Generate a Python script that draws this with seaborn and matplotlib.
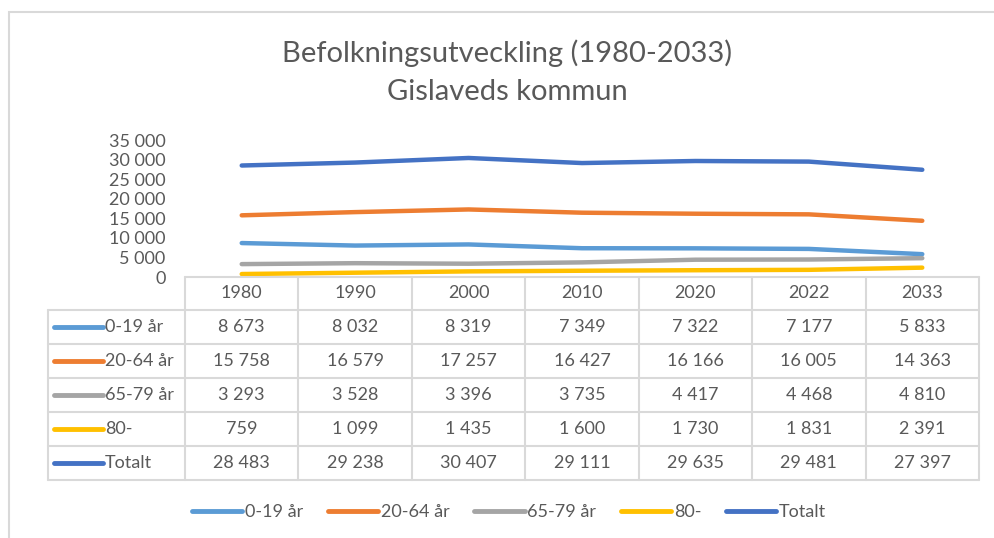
import pandas as pd
import matplotlib.pyplot as plt
import matplotlib.ticker as mticker
from matplotlib.patches import Rectangle
from matplotlib.lines import Line2D
import seaborn as sns

# data
years = ['1980', '1990', '2000', '2010', '2020', '2022', '2033']
groups = ['0-19 år', '20-64 år', '65-79 år', '80-', 'Totalt']
age_0_19 = [8673, 8032, 8319, 7349, 7322, 7177, 5833]
age_20_64 = [15758, 16579, 17257, 16427, 16166, 16005, 14363]
age_65_79 = [3293, 3528, 3396, 3735, 4417, 4468, 4810]
age_80 = [759, 1099, 1435, 1600, 1730, 1831, 2391]
total = [28483, 29238, 30407, 29111, 29635, 29481, 27397]
colors = ['#5B9BD5', '#ED7D31', '#A5A5A5', '#FFC000', '#4472C4']

series = [age_0_19, age_20_64, age_65_79, age_80, total]
rows = []
for g, vals in zip(groups, series):
    for i, v in enumerate(vals):
        rows.append({'pos': i, 'year': years[i], 'group': g, 'value': v})
df = pd.DataFrame(rows)

sns.set_style('white')
plt.rcParams['font.family'] = ['Lato', 'DejaVu Sans']

W, H = 994, 538
fig = plt.figure(figsize=(W / 100, H / 100), dpi=100)
txt = '#595959'
grid = '#D9D9D9'

def fx(x):
    return x / W

def fy(y):
    return 1 - y / H

# plot area in pixels
left, right, top, bottom = 185, 979, 140, 277
ax = fig.add_axes([fx(left), fy(bottom), (right - left) / W, (bottom - top) / H])
sns.lineplot(data=df, x='pos', y='value', hue='group', palette=colors,
             hue_order=groups, linewidth=3.2, sort=False, legend=False, ax=ax,
             solid_capstyle='round')
ax.set_xlim(-0.5, len(years) - 0.5)
ax.set_ylim(0, 35000)
ax.set_yticks(range(0, 35001, 5000))
ax.yaxis.set_major_formatter(mticker.FuncFormatter(lambda v, p: f'{int(v):,}'.replace(',', ' ')))
ax.tick_params(axis='y', labelsize=13, labelcolor=txt, length=0, pad=14)
ax.set_xticks([])
ax.set_xlabel('')
ax.set_ylabel('')
for s in ax.spines.values():
    s.set_visible(False)

# title
fig.text(fx(507), fy(53), 'Befolkningsutveckling (1980-2033)', ha='center', va='center',
         fontsize=21, color=txt)
fig.text(fx(507), fy(92), 'Gislaveds kommun', ha='center', va='center',
         fontsize=21, color=txt)

# chart frame
fig.patches.append(Rectangle((fx(9), fy(560)), (1010 - 9) / W, (560 - 12) / H,
                             transform=fig.transFigure, fill=False,
                             edgecolor=grid, linewidth=1.5))

# data table
col_w = (right - left) / len(years)
row_y = [310, 344, 378, 412, 446, 480]
lk = dict(color=grid, linewidth=1.5, transform=fig.transFigure)
fig.add_artist(Line2D([fx(left), fx(right)], [fy(bottom), fy(bottom)], **lk))
for y in row_y:
    fig.add_artist(Line2D([fx(48), fx(right)], [fy(y), fy(y)], **lk))
fig.add_artist(Line2D([fx(48), fx(48)], [fy(row_y[0]), fy(row_y[-1])], **lk))
for i in range(len(years) + 1):
    x = left + i * col_w
    fig.add_artist(Line2D([fx(x), fx(x)], [fy(bottom), fy(row_y[-1])], **lk))

for i, yr in enumerate(years):
    fig.text(fx(left + (i + 0.5) * col_w), fy((bottom + row_y[0]) / 2), yr,
             ha='center', va='center', fontsize=13, color=txt)

for r, (g, vals, c) in enumerate(zip(groups, series, colors)):
    yc = (row_y[r] + row_y[r + 1]) / 2
    fig.add_artist(Line2D([fx(54), fx(103)], [fy(yc), fy(yc)], color=c, linewidth=3.5,
                          solid_capstyle='round', transform=fig.transFigure))
    fig.text(fx(105), fy(yc), g, ha='left', va='center', fontsize=13, color=txt)
    for i, v in enumerate(vals):
        fig.text(fx(left + (i + 0.5) * col_w), fy(yc), f'{v:,}'.replace(',', ' '),
                 ha='center', va='center', fontsize=13, color=txt)

# legend
handles = [Line2D([0], [0], color=c, linewidth=3.5, solid_capstyle='round', label=g)
           for g, c in zip(groups, colors)]
fig.legend(handles=handles, loc='center', bbox_to_anchor=(fx(509), fy(512)), ncol=5,
           frameon=False, fontsize=13, labelcolor=txt, handlelength=2.8,
           handletextpad=0.15, columnspacing=1.35)

fig.savefig('out.png', dpi=100)
